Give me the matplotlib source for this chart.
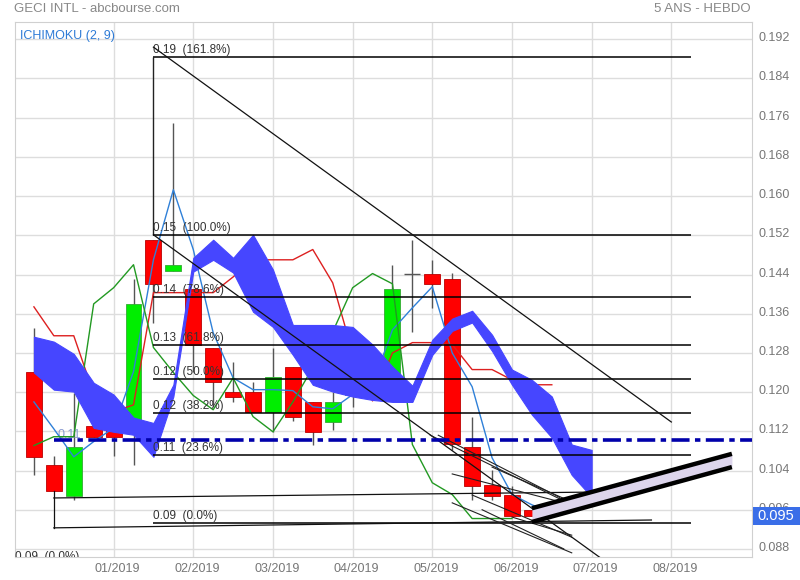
import matplotlib
matplotlib.use("Agg")
import matplotlib.pyplot as plt
import matplotlib.transforms as mtransforms
from matplotlib.patches import Rectangle
import numpy as np

plt.rcParams['font.family'] = ['Liberation Sans', 'DejaVu Sans']

# bougies hebdo (index 0 = première semaine affichée)
opens = [0.1242, 0.1052, 0.0988, 0.1131, 0.1127, 0.1140, 0.1511, 0.1448, 0.1411, 0.1291,
         0.1201, 0.1201, 0.1160, 0.1252, 0.1180, 0.1140, 0.1195, 0.1230, 0.1235, 0.1441,
         0.1442, 0.1431, 0.1088, 0.1011, 0.0991, 0.0960]
highs = [0.1331, 0.1070, 0.1199, 0.1131, 0.1164, 0.1431, 0.1511, 0.1750, 0.1411, 0.1291,
         0.1262, 0.1221, 0.1291, 0.1252, 0.1180, 0.1201, 0.1255, 0.1270, 0.1460, 0.1511,
         0.1470, 0.1444, 0.1150, 0.1042, 0.1009, 0.0960]
lows = [0.1031, 0.0999, 0.0980, 0.1109, 0.1070, 0.1052, 0.1342, 0.1448, 0.1242, 0.1170,
        0.1180, 0.1160, 0.1119, 0.1142, 0.1093, 0.1123, 0.1170, 0.1215, 0.1235, 0.1323,
        0.1372, 0.1082, 0.0980, 0.0980, 0.0948, 0.0948]
closes = [0.1068, 0.0999, 0.1089, 0.1109, 0.1109, 0.1380, 0.1421, 0.1460, 0.1297, 0.1221,
          0.1189, 0.1160, 0.1231, 0.1150, 0.1119, 0.1180, 0.1250, 0.1265, 0.1411, 0.1441,
          0.1421, 0.1095, 0.1009, 0.0988, 0.0948, 0.0948]

# ichimoku (2, 9)
tenkan = [0.1180, 0.1125, 0.1068, 0.1099, 0.1127, 0.1242, 0.1470, 0.1613, 0.1491, 0.1321,
          0.1229, 0.1205, 0.1205, 0.1203, 0.1170, 0.1166, 0.1195, 0.1215, 0.1327, 0.1372,
          0.1415, 0.1280, 0.1211, 0.1066, 0.0991, 0.0970, 0.0954]
kijun = [0.1374, 0.1315, 0.1315, 0.1197, 0.1160, 0.1174, 0.1403, 0.1403, 0.1403, 0.1403,
         0.1435, 0.1470, 0.1470, 0.1470, 0.1491, 0.1423, 0.1280, 0.1182, 0.1280, 0.1301,
         0.1301, 0.1297, 0.1246, 0.1246, 0.1225, 0.1215, 0.1215]
chikou = [0.1091, 0.1109, 0.1109, 0.1380, 0.1413, 0.1460, 0.1291, 0.1240, 0.1193, 0.1164,
          0.1229, 0.1150, 0.1119, 0.1180, 0.1250, 0.1323, 0.1413, 0.1442, 0.1421, 0.1093,
          0.1015, 0.0991, 0.0942, 0.0942, 0.0942]
cloud_top = [0.1313, 0.1303, 0.1278, 0.1219, 0.1195, 0.1148, 0.1137, 0.1215, 0.1474, 0.1511,
             0.1474, 0.1521, 0.1450, 0.1337, 0.1337, 0.1337, 0.1333, 0.1297, 0.1252, 0.1213,
             0.1307, 0.1350, 0.1366, 0.1317, 0.1246, 0.1225, 0.1191, 0.1093, 0.1082]
cloud_bot = [0.1240, 0.1205, 0.1201, 0.1127, 0.1119, 0.1113, 0.1068, 0.1191, 0.1446, 0.1470,
             0.1444, 0.1364, 0.1333, 0.1276, 0.1215, 0.1201, 0.1191, 0.1184, 0.1180, 0.1180,
             0.1276, 0.1325, 0.1342, 0.1284, 0.1215, 0.1154, 0.1107, 0.1031, 0.0986]

month_pos = [4, 8, 12, 16, 20, 24, 28, 32]
month_labels = ['01/2019', '02/2019', '03/2019', '04/2019', '05/2019', '06/2019', '07/2019', '08/2019']
y_ticks = [0.088, 0.096, 0.104, 0.112, 0.120, 0.128, 0.136, 0.144, 0.152, 0.160,
           0.168, 0.176, 0.184, 0.192]

# retracement de Fibonacci
fib_levels = [0.1884, 0.1521, 0.1394, 0.1296, 0.1227, 0.1157, 0.1072, 0.0933]
fib_labels = ['0.19  (161.8%)', '0.15  (100.0%)', '0.14  (78.6%)', '0.13  (61.8%)',
              '0.12  (50.0%)', '0.12  (38.2%)', '0.11  (23.6%)', '0.09  (0.0%)']
fib_start, fib_end = 6, 33

# tracés manuels : ((x0, y0), (x1, y1))
trend_lines = [
    ((6, 0.1904), (32.0, 0.1139)),
    ((6, 0.1521), (28.4, 0.0863)),
    ((1, 0.0984), (28.1, 0.0996)),
    ((1, 0.0923), (31.0, 0.0939)),
    ((1, 0.0999), (1, 0.0923)),
]
fan_lines = [
    ((19.9, 0.1112), (27.0, 0.0970)),
    ((20.3, 0.1112), (26.4, 0.0985)),
    ((21.0, 0.1033), (27.0, 0.0970)),
    ((22.0, 0.0990), (27.0, 0.0904)),
    ((21.0, 0.0974), (27.0, 0.0872)),
    ((23.0, 0.1047), (27.0, 0.0976)),
    ((24.0, 0.0945), (27.0, 0.0908)),
    ((22.5, 0.0960), (26.6, 0.0880)),
]
channel_x = [25, 35.04]
channel_top = [0.0963, 0.1074]
channel_bot = [0.0935, 0.1047]
hline_level = 0.1102
last_price = 0.0949

fig = plt.figure(figsize=(8, 5.8), dpi=100)
ax = fig.add_axes([15 / 800, 23 / 580, 737 / 800, 535 / 580])
ax.set_xlim(-0.95, 36.05)
ax.set_ylim(0.08635, 0.19553)

ax.set_xticks(month_pos)
ax.set_xticklabels(month_labels)
ax.set_yticks(y_ticks)
ax.set_yticklabels([f'{v:.3f}' for v in y_ticks])
ax.yaxis.tick_right()
ax.tick_params(length=0, labelsize=9, colors='#777777', pad=5)
ax.tick_params(axis='x', pad=4)
ax.grid(color='#dddddd', lw=1, zorder=0)
ax.set_axisbelow(True)
for s in ax.spines.values():
    s.set_color('#d0d0d0')

# décalage léger des libellés comme sur le site
shift_x = mtransforms.ScaledTranslation(4 / 100, 0, fig.dpi_scale_trans)
for lab in ax.get_xticklabels():
    lab.set_transform(lab.get_transform() + shift_x)
shift_y = mtransforms.ScaledTranslation(0, 2.5 / 100, fig.dpi_scale_trans)
for lab in ax.get_yticklabels():
    lab.set_transform(lab.get_transform() + shift_y)

# bougies
x = np.arange(len(opens))
for i in x:
    o, h, l, c = opens[i], highs[i], lows[i], closes[i]
    ax.vlines(i, l, h, color='#555555', lw=1, zorder=2)
    if abs(o - c) < 1e-6:
        ax.hlines(o, i - 0.4, i + 0.4, color='#555555', lw=1, zorder=2)
        continue
    up = c > o
    ax.add_patch(Rectangle((i - 0.4, min(o, c)), 0.8, abs(c - o),
                           facecolor='#00ee00' if up else '#ff0000',
                           edgecolor='#33aa33' if up else '#bb0000', lw=0.6, zorder=3))

ax.text(1.2, hline_level + 0.0004, '0.11', color='#8a9ad0', fontsize=9, zorder=2.5)

ax.plot(np.arange(len(tenkan)), tenkan, color='#2f80d8', lw=1, zorder=4)
ax.plot(np.arange(len(kijun)), kijun, color='#dd2020', lw=1, zorder=4)
ax.plot(np.arange(len(chikou)), chikou, color='#229922', lw=1, zorder=4)
ax.fill_between(np.arange(len(cloud_top)), cloud_top, cloud_bot, color='#4646ff', lw=0.8,
                edgecolor='#4646ff', zorder=5)

# fibonacci
ax.vlines(fib_start, fib_levels[1], fib_levels[0], color='#222222', lw=1, zorder=6)
for lvl, lab in zip(fib_levels, fib_labels):
    ax.hlines(lvl, fib_start, fib_end, color='black', lw=1.1, zorder=6)
    ax.text(fib_start, lvl + 0.0002, lab, fontsize=8.5, color='#333333',
            va='bottom', ha='left', zorder=6)

for (x0, y0), (x1, y1) in trend_lines:
    ax.plot([x0, x1], [y0, y1], color='#111111', lw=0.9, zorder=6)
for (x0, y0), (x1, y1) in fan_lines:
    ax.plot([x0, x1], [y0, y1], color='#222222', lw=0.8, zorder=6)

ax.fill_between(channel_x, channel_top, channel_bot, color='#ddd5ec', lw=0, zorder=6)
ax.plot(channel_x, channel_top, color='black', lw=3.2, zorder=7, solid_capstyle='butt')
ax.plot(channel_x, channel_bot, color='black', lw=3.2, zorder=7, solid_capstyle='butt')

ax.hlines(hline_level, 1, 36.05, color='#0000aa', lw=2.6, linestyles=(0, (5, 1.5, 1.5, 1.5)),
          zorder=8)

ax.text(-0.95, 0.0851, '0.09  (0.0%)', fontsize=8.5, color='#333333', va='bottom',
        ha='left', clip_on=True)

# textes du cadre
ax.text(0.007, 0.985, 'ICHIMOKU (2, 9)', transform=ax.transAxes, color='#2e7bd6',
        fontsize=9, va='top', ha='left')
fig.text(14 / 800, 1 - 9 / 580, 'GECI INTL - abcbourse.com', color='#888888', fontsize=9.5,
         va='center', ha='left')
fig.text(751 / 800, 1 - 9 / 580, '5 ANS - HEBDO', color='#888888', fontsize=9.5,
         va='center', ha='right')

# étiquette du dernier cours
fig.patches.append(Rectangle((753 / 800, 1 - 525 / 580), 47 / 800, 18 / 580,
                             transform=fig.transFigure, facecolor='#3a6ee8',
                             edgecolor='none', zorder=5))
fig.text(757 / 800, 1 - 516 / 580, f'{last_price:.3f}', color='white', fontsize=10.5,
         va='center', ha='left', zorder=6)

fig.savefig('out.png', dpi=100)
